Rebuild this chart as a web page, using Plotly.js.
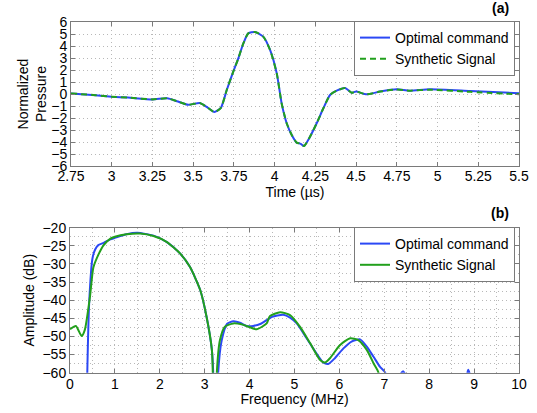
<!DOCTYPE html>
<html><head><meta charset="utf-8">
<script src="https://cdn.plot.ly/plotly-3.0.1.min.js"></script>
<style>html,body{margin:0;padding:0;background:#fff}#c{width:537px;height:413px}</style>
</head><body><div id="c"></div>
<script>
// (a) time signal
const timeUs = [2.75, 2.9, 3.0, 3.1, 3.25, 3.34, 3.4, 3.47, 3.54, 3.58, 3.63, 3.67, 3.706, 3.746, 3.777, 3.808, 3.838, 3.879, 3.93, 3.972, 4.013, 4.043, 4.074, 4.105, 4.135, 4.16, 4.18, 4.217, 4.258, 4.299, 4.34, 4.381, 4.432, 4.473, 4.5, 4.565, 4.647, 4.749, 4.83, 4.953, 5.2, 5.5];
const pressOptimal = [0.05, -0.1, -0.22, -0.3, -0.45, -0.36, -0.6, -0.9, -0.75, -1.05, -1.5, -1.15, 0.33, 1.86, 2.97, 4.22, 5.05, 5.17, 4.78, 3.67, 1.72, -0.78, -2.44, -3.42, -4.05, -4.15, -4.33, -3.56, -2.44, -1.19, -0.08, 0.28, 0.5, 0.11, 0.2, -0.03, 0.2, 0.39, 0.28, 0.39, 0.25, 0.06];
const pressSynth = [0.05, -0.1, -0.22, -0.3, -0.45, -0.36, -0.6, -0.9, -0.75, -1.05, -1.5, -1.15, 0.33, 1.86, 2.97, 4.22, 5.05, 5.17, 4.78, 3.67, 1.72, -0.78, -2.44, -3.42, -4.05, -4.15, -4.33, -3.56, -2.44, -1.19, -0.08, 0.28, 0.5, 0.11, 0.2, -0.03, 0.2, 0.37, 0.28, 0.36, 0.18, -0.02];

// (b) spectra
const freqOptimal = [0.37, 0.385, 0.43, 0.5, 0.56, 0.63, 0.75, 0.9, 1.0, 1.26, 1.5, 1.86, 2.15, 2.45, 2.67, 2.9, 3.04, 3.16, 3.19, 3.21, 3.28, 3.30, 3.38, 3.5, 3.64, 3.8, 3.93, 4.08, 4.25, 4.38, 4.5, 4.62, 4.75, 4.9, 5.05, 5.27, 5.49, 5.64, 5.75, 5.9, 6.09, 6.27, 6.46, 6.61, 6.76, 6.9, 7.02, 7.05, 7.3, 7.42, 7.55, 8.8, 8.87, 8.94];
const ampOptimal = [-75, -60, -40, -28.5, -26, -24.8, -24.2, -23.2, -22.8, -21.8, -21.4, -22.2, -23.9, -27.1, -30.8, -37.2, -44.5, -53.7, -60, -75, -75, -60, -51, -46.5, -45.8, -46.3, -47.1, -47.1, -46.5, -45.5, -44.6, -44.2, -44.0, -44.8, -46.4, -50.5, -54.7, -57.2, -57.6, -56.0, -53.3, -51.4, -50.8, -52.8, -55.6, -58.3, -60, -75, -62, -59.6, -62, -62, -59.2, -62];
const freqSynth = [0, 0.13, 0.26, 0.33, 0.445, 0.52, 0.63, 0.75, 0.9, 1.0, 1.26, 1.56, 1.86, 2.15, 2.45, 2.67, 2.9, 3.04, 3.16, 3.18, 3.2, 3.25, 3.27, 3.34, 3.45, 3.64, 3.86, 4.16, 4.38, 4.45, 4.68, 4.9, 5.12, 5.35, 5.57, 5.68, 5.79, 6.01, 6.24, 6.42, 6.61, 6.76, 6.87, 6.92];
const ampSynth = [-48.0, -47.1, -49.9, -48.2, -39.0, -31.0, -27.5, -24.8, -23.0, -22.5, -21.8, -21.6, -22.3, -23.9, -27.1, -30.8, -37.2, -44.5, -53.7, -60, -75, -75, -60, -51, -47.3, -46.4, -46.8, -48.0, -46.4, -44.4, -43.3, -44.1, -47.3, -51.9, -56.5, -57.2, -56.0, -52.4, -50.5, -51.0, -53.7, -57.4, -60, -75];

const seriesNames = ['Optimal command', 'Synthetic Signal'];
const timeTicks = [2.75, 3, 3.25, 3.5, 3.75, 4, 4.25, 4.5, 4.75, 5, 5.25, 5.5];
const timeTickText = ['2.75', '3', '3.25', '3.5', '3.75', '4', '4.25', '4.5', '4.75', '5', '5.25', '5.5'];

const BLUE = '#2b48f5', GREEN = '#22a01c';
const FONT = 'Liberation Sans, Arial, Helvetica, sans-serif';
const W = 537, H = 413;
const px = v => v / W, py = v => (H - v) / H;

const traces = [
  {x: timeUs, y: pressOptimal, name: seriesNames[0], mode: 'lines', line: {color: BLUE, width: 2, shape: 'spline', smoothing: 0.6}, xaxis: 'x', yaxis: 'y', legend: 'legend'},
  {x: timeUs, y: pressSynth, name: seriesNames[1], mode: 'lines', line: {color: GREEN, width: 2, dash: '6px,4px', shape: 'spline', smoothing: 0.6}, xaxis: 'x', yaxis: 'y', legend: 'legend'},
  {x: freqOptimal, y: ampOptimal, name: seriesNames[0], mode: 'lines', line: {color: BLUE, width: 2, shape: 'spline', smoothing: 0.6}, xaxis: 'x2', yaxis: 'y2', legend: 'legend2'},
  {x: freqSynth, y: ampSynth, name: seriesNames[1], mode: 'lines', line: {color: GREEN, width: 2, shape: 'spline', smoothing: 0.6}, xaxis: 'x2', yaxis: 'y2', legend: 'legend2'}
];

const GRID = '#b8b8b8', GDASH = '1px,3px';
const axBase = {
  showline: true, linecolor: '#7a7a7a', linewidth: 1, mirror: 'ticks',
  ticks: 'inside', ticklen: 4, tickcolor: '#7a7a7a',
  showgrid: true, gridcolor: GRID, griddash: GDASH, gridwidth: 1,
  zeroline: false, automargin: false,
  tickfont: {family: FONT, size: 14, color: '#000'},
  title: {font: {family: FONT, size: 14, color: '#000'}}
};

const legendBase = {xanchor: 'right', yanchor: 'top', bgcolor: '#fff', bordercolor: '#7a7a7a', borderwidth: 1, font: {family: FONT, size: 14, color: '#000'}, tracegroupgap: 0, itemwidth: 30};

const layout = {
  width: W, height: H,
  margin: {l: 0, r: 0, t: 0, b: 0},
  paper_bgcolor: '#fff', plot_bgcolor: '#fff',
  font: {family: FONT, size: 14, color: '#000'},
  xaxis: Object.assign({}, axBase, {domain: [px(71), px(519)], anchor: 'y', range: [2.75, 5.5], tickvals: timeTicks, ticktext: timeTickText, ticklabelstandoff: -3, title: {text: 'Time (µs)', font: axBase.title.font, standoff: 0}}),
  yaxis: Object.assign({}, axBase, {domain: [py(166), py(22)], anchor: 'x', range: [-6, 6], dtick: 1, tick0: 0, title: {text: 'Normalized<br>Pressure', font: axBase.title.font, standoff: 1}}),
  xaxis2: Object.assign({}, axBase, {domain: [px(70), px(519)], anchor: 'y2', range: [0, 10], dtick: 1, tick0: 0, ticklabelstandoff: -2,
    minor: {dtick: 0.5, showgrid: true, gridcolor: GRID, griddash: GDASH, ticks: ''}, title: {text: 'Frequency (MHz)', font: axBase.title.font, standoff: 0}}),
  yaxis2: Object.assign({}, axBase, {domain: [py(372.7), py(227.7)], anchor: 'x2', range: [-60, -20], dtick: 5, tick0: 0,
    minor: {dtick: 2.5, showgrid: true, gridcolor: GRID, griddash: GDASH, ticks: ''}, title: {text: 'Amplitude (dB)', font: axBase.title.font, standoff: 4}}),
  legend: Object.assign({}, legendBase, {x: px(515), y: py(21)}),
  legend2: Object.assign({}, legendBase, {x: px(515), y: py(227)}),
  showlegend: true,
  annotations: [
    {text: '<b>(a)</b>', xref: 'paper', yref: 'paper', x: px(500), y: py(8), xanchor: 'center', yanchor: 'middle', showarrow: false, font: {family: FONT, size: 14, color: '#000'}},
    {text: '<b>(b)</b>', xref: 'paper', yref: 'paper', x: px(500), y: py(213), xanchor: 'center', yanchor: 'middle', showarrow: false, font: {family: FONT, size: 14, color: '#000'}}
  ]
};

Plotly.newPlot('c', traces, layout, {displayModeBar: false, staticPlot: true});
</script>
</body></html>
